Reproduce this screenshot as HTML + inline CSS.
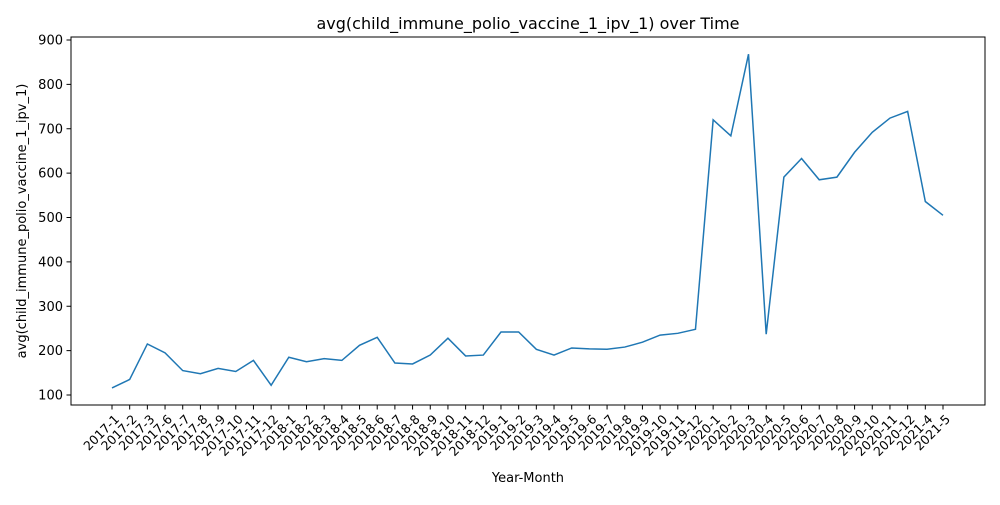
<!DOCTYPE html>
<html><head><meta charset="utf-8"><style>
body{margin:0;background:#fff;font-family:"Liberation Sans","DejaVu Sans",sans-serif;}
</style></head><body>
<svg id="chart" width="1000" height="500" font-family="DejaVu Sans, Liberation Sans, sans-serif">
<rect width="1000" height="500" fill="#fff"/>
<text x="528" y="29" text-anchor="middle" font-size="16">avg(child_immune_polio_vaccine_1_ipv_1) over Time</text>
<text x="528" y="482" text-anchor="middle" font-size="13">Year-Month</text>
<text transform="translate(26,221) rotate(-90)" text-anchor="middle" font-size="13">avg(child_immune_polio_vaccine_1_ipv_1)</text>
<g id="yaxis"></g><g id="xaxis"></g><g id="series"></g>
<rect x="71" y="37" width="914" height="368" fill="none" stroke="#000" stroke-width="1"/>
</svg>
<script>
const categories=["2017-1","2017-2","2017-3","2017-6","2017-7","2017-8","2017-9","2017-10","2017-11","2017-12","2018-1","2018-2","2018-3","2018-4","2018-5","2018-6","2018-7","2018-8","2018-9","2018-10","2018-11","2018-12","2019-1","2019-2","2019-3","2019-4","2019-5","2019-6","2019-7","2019-8","2019-9","2019-10","2019-11","2019-12","2020-1","2020-2","2020-3","2020-4","2020-5","2020-6","2020-7","2020-8","2020-9","2020-10","2020-11","2020-12","2021-4","2021-5"];
const values=[116,135,215,195,155,148,160,153,178,122,185,175,182,178,212,230,172,170,190,228,188,190,242,242,203,190,206,204,203,208,219,235,239,248,720,684,868,237,591,633,585,591,647,692,724,739,536,505];
const yTicks=[100,200,300,400,500,600,700,800,900];
const NS="http://www.w3.org/2000/svg";
const x0=112,x1=943,yb=395,yt=40;
function xs(i){return x0+(x1-x0)*i/(categories.length-1);}
function ys(v){return yb-(v-100)*(yb-yt)/800;}
function mk(tag,attrs,parent){const e=document.createElementNS(NS,tag);for(const k in attrs)e.setAttribute(k,attrs[k]);parent.appendChild(e);return e;}
const ya=document.getElementById('yaxis'),xa=document.getElementById('xaxis'),se=document.getElementById('series');
yTicks.forEach(t=>{const y=ys(t);
 const l=mk('line',{x1:66.5,x2:71,y1:y,y2:y,stroke:'#000'},ya);
 
 
 const tx=mk('text',{x:63,y:y+4.5,'text-anchor':'end','font-size':13},ya);tx.textContent=t;
 
 
});
categories.forEach((c,i)=>{const x=xs(i);
 const l=mk('line',{x1:x,x2:x,y1:405,y2:409.5,stroke:'#000'},xa);
 
 
 const tx=mk('text',{transform:`translate(${x+8},${420}) rotate(-45)`,'text-anchor':'end','font-size':12.5},xa);tx.textContent=c;
 
 
});
const p=mk('polyline',{points:values.map((v,i)=>xs(i)+','+ys(v)).join(' '),fill:'none',stroke:'#1f77b4','stroke-width':1.5},se);


</script>
</body></html>
